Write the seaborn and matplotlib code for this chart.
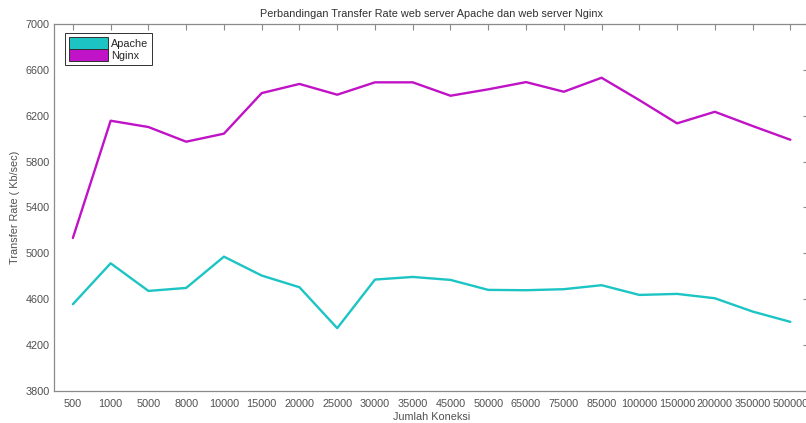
import pandas as pd
import matplotlib
matplotlib.use("Agg")
import matplotlib.pyplot as plt
from matplotlib.patches import Patch
import seaborn as sns

sns.set_style("white")
plt.rcParams['font.family'] = ['Liberation Sans', 'DejaVu Sans']

koneksi = ['500', '1000', '5000', '8000', '10000', '15000', '20000', '25000',
           '30000', '35000', '45000', '50000', '65000', '75000', '85000',
           '100000', '150000', '200000', '350000', '500000']
apache = [4556, 4913, 4672, 4698, 4971, 4806, 4704, 4347, 4771, 4794,
          4768, 4681, 4678, 4687, 4722, 4637, 4646, 4608, 4492, 4402]
nginx = [5134, 6157, 6102, 5974, 6044, 6398, 6478, 6384, 6492, 6492,
         6375, 6431, 6494, 6410, 6532, 6337, 6134, 6235, 6111, 5991]

idx = list(range(1, len(koneksi) + 1))
df = pd.DataFrame({
    'x': idx * 2,
    'rate': apache + nginx,
    'server': ['Apache'] * len(idx) + ['Nginx'] * len(idx),
})
colors = {'Apache': '#1cc4c4', 'Nginx': '#c012c6'}

fig = plt.figure(figsize=(8.06, 4.23), dpi=100)
ax = fig.add_axes([0.067, 0.076, 0.937, 0.867])
sns.lineplot(data=df, x='x', y='rate', hue='server', palette=colors,
             linewidth=1.7, ax=ax, legend=False)

grey = '#8a8a8a'
txt = '#505050'
ax.set_xlim(0.5, 20.5)
ax.set_ylim(3800, 7000)
ax.set_xticks(idx)
ax.set_xticklabels(koneksi)
ax.set_yticks(range(3800, 7001, 400))
ax.tick_params(direction='in', length=4, width=0.8, colors=grey,
               labelcolor=txt, labelsize=7.8, top=True, right=True)
ax.tick_params(axis='x', pad=6)
ax.tick_params(axis='y', pad=3)
for s in ax.spines.values():
    s.set_color(grey)
    s.set_linewidth(0.9)

ax.set_title('Perbandingan Transfer Rate web server Apache dan web server Nginx',
             fontsize=7.8, color='#303030', pad=5)
ax.set_xlabel('Jumlah Koneksi', fontsize=7.8, color=txt, labelpad=2)
ax.set_ylabel('Transfer Rate ( Kb/sec)', fontsize=7.8, color=txt, labelpad=4)

handles = [Patch(facecolor=colors[k], edgecolor='#303030', linewidth=0.7, label=k)
           for k in ['Apache', 'Nginx']]
leg = ax.legend(handles=handles, loc='upper left', fontsize=7.8,
                handlelength=3.6, handleheight=1.3, handletextpad=0.3,
                borderpad=0.35, borderaxespad=0, labelspacing=0.05,
                fancybox=False, framealpha=1, bbox_to_anchor=(0.0146, 0.975))
leg.get_frame().set_edgecolor('#303030')
leg.get_frame().set_linewidth(0.7)

fig.savefig('out.png', dpi=100)
